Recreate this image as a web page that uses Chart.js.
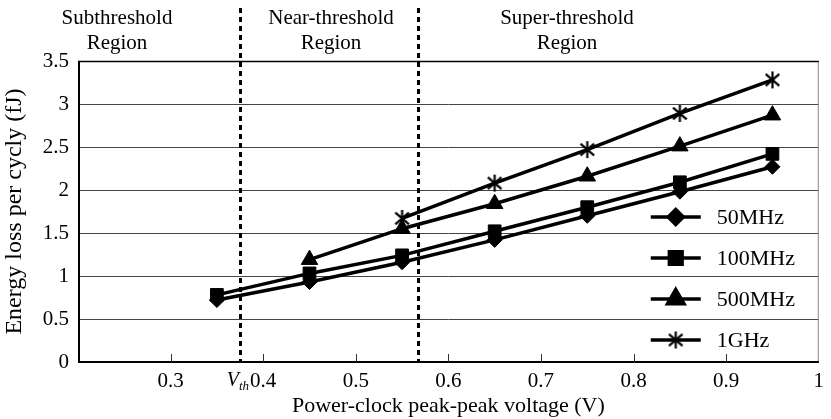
<!DOCTYPE html>
<html>
<head>
<meta charset="utf-8">
<script src="https://cdn.jsdelivr.net/npm/chart.js@4/dist/chart.umd.min.js"></script>
<style>
  html, body { margin: 0; padding: 0; background: #fff; }
  #wrap { width: 831px; height: 419px; position: relative; }
</style>
</head>
<body>
<div id="wrap"><canvas id="energyChart"></canvas></div>
<script>
// peak-peak voltage (V) of the power clock
const voltages = [0.35, 0.45, 0.55, 0.65, 0.75, 0.85, 0.95];
// energy loss per cycle (fJ)
const energy50MHz  = [0.72, 0.93, 1.16, 1.42, 1.70, 1.98, 2.27];
const energy100MHz = [0.78, 1.03, 1.24, 1.52, 1.80, 2.09, 2.42];
const energy500MHz = [null, 1.19, 1.55, 1.84, 2.16, 2.51, 2.87];
const energy1GHz   = [null, null, 1.67, 2.08, 2.47, 2.89, 3.28];
const seriesLabels = ['50MHz', '100MHz', '500MHz', '1GHz'];

const xTickValues = [0.2, 0.3, 0.4, 0.5, 0.6, 0.7, 0.8, 0.9, 1];
const yTickValues = [0, 0.5, 1, 1.5, 2, 2.5, 3, 3.5];
const regionBounds = [0.375, 0.567];   // Vth and near/super split
const regionNames = [['Subthreshold', 'Region'], ['Near-threshold', 'Region'], ['Super-threshold', 'Region']];

const FONT = 'Liberation Serif';

// asterisk marker for the 1GHz curve
function makeAsterisk(size) {
    const c = document.createElement('canvas');
    c.width = c.height = size;
    const g = c.getContext('2d');
    const m = size / 2, r = size / 2 - 1;
    g.strokeStyle = '#000';
    g.lineWidth = 2.2;
    g.beginPath();
    g.moveTo(m, m - r); g.lineTo(m, m + r);
    g.moveTo(m - r * 0.8, m - r * 0.7); g.lineTo(m + r * 0.8, m + r * 0.7);
    g.moveTo(m + r * 0.8, m - r * 0.7); g.lineTo(m - r * 0.8, m + r * 0.7);
    g.stroke();
    return c;
}
const asterisk = makeAsterisk(19);

const markers = [
    { pointStyle: 'rectRot', radius: 7.5 },
    { pointStyle: 'rect', radius: 9 },
    { pointStyle: 'triangle', radius: 9.5 },
    { pointStyle: asterisk, radius: 9 }
];

function toPoints(values) {
    return voltages.map((v, i) => ({ x: v, y: values[i] })).filter(p => p.y !== null);
}

const allSeries = [energy50MHz, energy100MHz, energy500MHz, energy1GHz];

const datasets = allSeries.map((vals, i) => ({
    label: seriesLabels[i],
    data: toPoints(vals),
    borderColor: '#000',
    backgroundColor: '#000',
    borderWidth: 3.5,
    pointStyle: markers[i].pointStyle,
    pointRadius: markers[i].radius,
    pointBorderWidth: 1,
    pointBackgroundColor: '#000',
    pointBorderColor: '#000',
    tension: 0
}));

// dashed region separators, frame, inward ticks, region captions, legend
const figureDecor = {
    id: 'figureDecor',
    beforeDatasetsDraw(chart) {
        const { ctx, chartArea, scales } = chart;
        ctx.save();
        ctx.strokeStyle = '#000';
        ctx.lineWidth = 3;
        ctx.setLineDash([5, 4]);
        regionBounds.forEach(v => {
            const px = Math.round(scales.x.getPixelForValue(v)) + 0.5;
            ctx.beginPath();
            ctx.moveTo(px, 8);
            ctx.lineTo(px, chartArea.bottom);
            ctx.stroke();
        });
        ctx.restore();
    },
    afterDraw(chart) {
        const { ctx, chartArea: a, scales } = chart;
        ctx.save();

        // frame
        ctx.lineWidth = 1;
        ctx.strokeStyle = '#888';
        ctx.beginPath();
        ctx.moveTo(a.right - 0.5, a.top); ctx.lineTo(a.right - 0.5, a.bottom);
        ctx.stroke();
        ctx.strokeStyle = '#000';
        ctx.lineWidth = 1.5;
        ctx.beginPath();
        ctx.moveTo(a.left, a.top + 0.5); ctx.lineTo(a.right, a.top + 0.5);
        ctx.stroke();
        ctx.lineWidth = 2;
        ctx.beginPath();
        ctx.moveTo(a.left + 1, a.top); ctx.lineTo(a.left + 1, a.bottom);
        ctx.moveTo(a.left, a.bottom); ctx.lineTo(a.right, a.bottom);
        ctx.stroke();

        // inward x ticks
        ctx.lineWidth = 1;
        ctx.strokeStyle = '#333';
        xTickValues.slice(1, -1).forEach(v => {
            const px = Math.round(scales.x.getPixelForValue(v)) + 0.5;
            ctx.beginPath();
            ctx.moveTo(px, a.bottom);
            ctx.lineTo(px, a.bottom - 8);
            ctx.stroke();
        });

        // V_th label under first separator
        const bx = Math.round(scales.x.getPixelForValue(regionBounds[0]));
        ctx.fillStyle = '#000';
        ctx.textBaseline = 'middle';
        ctx.font = `italic 20px "${FONT}"`;
        ctx.textAlign = 'right';
        ctx.fillText('V', bx - 1, a.bottom + 19);
        ctx.font = `italic 13px "${FONT}"`;
        ctx.textAlign = 'left';
        ctx.fillText('th', bx - 1, a.bottom + 25);

        // region captions above the plot
        ctx.font = `21px "${FONT}"`;
        ctx.textAlign = 'center';
        const capX = [117, 331, 567];
        regionNames.forEach((lines, i) => {
            ctx.fillText(lines[0], capX[i], 18);
            ctx.fillText(lines[1], capX[i], 43);
        });

        // legend, lower right inside the plot
        const rowGap = 41;
        const lx0 = a.right - 168, lx1 = a.right - 118, tx = a.right - 102;
        chart.data.datasets.forEach((ds, i) => {
            const y = a.bottom - 22 - (3 - i) * rowGap;
            ctx.strokeStyle = '#000';
            ctx.lineWidth = 3.5;
            ctx.setLineDash([]);
            ctx.beginPath();
            ctx.moveTo(lx0, y); ctx.lineTo(lx1, y);
            ctx.stroke();
            ctx.fillStyle = '#000';
            Chart.helpers.drawPoint(ctx, {
                pointStyle: ds.pointStyle, radius: ds.pointRadius, rotation: 0, borderWidth: 1
            }, (lx0 + lx1) / 2, y);
            ctx.fillStyle = '#000';
            ctx.font = `22px "${FONT}"`;
            ctx.textAlign = 'left';
            ctx.textBaseline = 'middle';
            ctx.fillText(ds.label, tx, y + 1);
        });
        ctx.restore();
    }
};

new Chart(document.getElementById('energyChart').getContext('2d'), {
    type: 'line',
    data: { datasets },
    options: {
        responsive: true,
        maintainAspectRatio: false,
        devicePixelRatio: 1,
        animation: false,
        layout: { padding: { top: 61, right: 5, left: 0, bottom: 0 } },
        plugins: { legend: { display: false }, tooltip: { enabled: false } },
        scales: {
            x: {
                type: 'linear',
                min: 0.2,
                max: 1,
                afterBuildTicks: s => { s.ticks = xTickValues.map(v => ({ value: v })); },
                afterFit: s => { s.height = 57; },
                grid: { display: false, drawTicks: false },
                border: { display: false },
                ticks: {
                    color: '#000',
                    padding: 7,
                    maxRotation: 0,
                    autoSkip: false,
                    font: { family: FONT, size: 21 },
                    callback: v => (v <= 0.2 ? '' : String(Math.round(v * 10) / 10))
                },
                title: {
                    display: true,
                    text: 'Power-clock peak-peak voltage (V)',
                    color: '#000',
                    font: { family: FONT, size: 22 },
                    padding: { top: 0, bottom: 0 }
                }
            },
            y: {
                min: 0,
                max: 3.5,
                afterBuildTicks: s => { s.ticks = yTickValues.map(v => ({ value: v })); },
                afterFit: s => { s.width = 78; },
                grid: { color: '#444', lineWidth: 1, drawTicks: false },
                border: { display: false },
                ticks: {
                    color: '#000',
                    padding: 9,
                    font: { family: FONT, size: 21 },
                    callback: v => String(v)
                },
                title: {
                    display: true,
                    text: 'Energy loss per cycly (fJ)',
                    color: '#000',
                    font: { family: FONT, size: 24 },
                    padding: { top: 0, bottom: 0 }
                }
            }
        }
    },
    plugins: [figureDecor]
});
</script>
</body>
</html>
